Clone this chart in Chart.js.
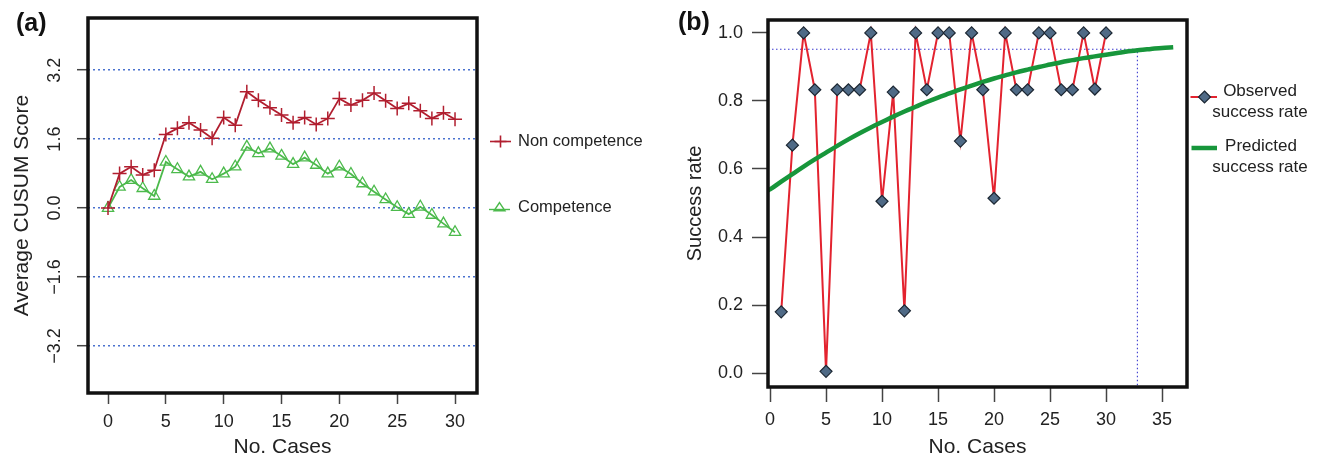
<!DOCTYPE html>
<html>
<head>
<meta charset="utf-8">
<script src="https://cdn.jsdelivr.net/npm/chart.js@4.4.1/dist/chart.umd.min.js"></script>
<style>
  html, body { margin: 0; padding: 0; background: #ffffff; }
  #wrap { position: relative; width: 1320px; height: 458px; overflow: hidden; }
  .panel { position: absolute; top: 0; width: 660px; height: 458px; }
</style>
</head>
<body>
<div id="wrap">
  <div class="panel" style="left:0px"><canvas id="chartA" width="660" height="458"></canvas></div>
  <div class="panel" style="left:660px"><canvas id="chartB" width="660" height="458"></canvas></div>
</div>
<script>
// ---------------- Panel (a) data ----------------
const casesA = [0,1,2,3,4,5,6,7,8,9,10,11,12,13,14,15,16,17,18,19,20,21,22,23,24,25,26,27,28,29,30];
const nonCompetence = [0.00,0.80,0.96,0.77,0.88,1.71,1.85,1.98,1.81,1.62,2.10,1.92,2.70,2.50,2.33,2.16,1.98,2.10,1.94,2.08,2.54,2.39,2.50,2.67,2.49,2.31,2.43,2.26,2.08,2.21,2.06];
const competence    = [0.00,0.49,0.65,0.46,0.28,1.07,0.90,0.73,0.84,0.67,0.80,0.96,1.42,1.27,1.38,1.21,1.02,1.17,1.00,0.80,0.96,0.79,0.57,0.38,0.20,0.02,-0.14,0.03,-0.16,-0.36,-0.56];
const yTicksA = [-3.2,-1.6,0,1.6,3.2];
const xTicksA = [0,5,10,15,20,25,30];
const legendA = ['Non competence','Competence'];

// ---------------- Panel (b) data ----------------
const casesB = [1,2,3,4,5,6,7,8,9,10,11,12,13,14,15,16,17,18,19,20,21,22,23,24,25,26,27,28,29,30];
const observedRate = [0.18,0.67,1.00,0.833,0.005,0.833,0.833,0.833,1.00,0.505,0.826,0.183,1.00,0.833,1.00,1.00,0.682,1.00,0.833,0.514,1.00,0.833,0.833,1.00,1.00,0.833,0.833,1.00,0.835,1.00];
const predictedCases = [-0.18,0,1,2,3,4,5,6,7,8,9,10,11,12,13,14,15,16,17,18,19,20,21,22,23,24,25,26,27,28,29,30,31,32,33,34,35,36];
const predictedRate  = [0.537,0.540,0.563,0.585,0.607,0.628,0.648,0.668,0.687,0.705,0.722,0.738,0.754,0.769,0.783,0.797,0.810,0.822,0.834,0.845,0.856,0.866,0.875,0.884,0.892,0.900,0.907,0.914,0.920,0.926,0.931,0.936,0.941,0.946,0.950,0.953,0.956,0.958];
const targetRate = 0.952;
const targetCases = 32.8;
const yTicksB = [0,0.2,0.4,0.6,0.8,1.0];
const xTicksB = [0,5,10,15,20,25,30,35];
const legendB = [['Observed','success rate'],['Predicted','success rate']];

// ---------------- common ----------------
const FONT = '"Liberation Sans", Arial, Helvetica, sans-serif';
Chart.defaults.font.family = FONT;
Chart.defaults.color = '#222';

const boxPlugin = {
  id: 'boxPlugin',
  afterDraw(chart) {
    const a = chart.chartArea, ctx = chart.ctx;
    ctx.save();
    ctx.lineWidth = 3.5;
    ctx.strokeStyle = '#111';
    ctx.strokeRect(a.left, a.top, a.right - a.left, a.bottom - a.top);
    ctx.restore();
  }
};

function drawCross(ctx, x, y, r, color) {
  ctx.save(); ctx.strokeStyle = color; ctx.lineWidth = 1.6;
  ctx.beginPath(); ctx.moveTo(x - r, y); ctx.lineTo(x + r, y); ctx.moveTo(x, y - r); ctx.lineTo(x, y + r); ctx.stroke();
  ctx.restore();
}
function drawTriangle(ctx, x, y, r, color) {
  ctx.save(); ctx.strokeStyle = color; ctx.lineWidth = 1.4;
  const h = r * 1.5;
  ctx.beginPath(); ctx.moveTo(x, y - h * 0.6); ctx.lineTo(x + r, y + h * 0.4); ctx.lineTo(x - r, y + h * 0.4); ctx.closePath(); ctx.stroke();
  ctx.restore();
}
function drawDiamond(ctx, x, y, r, fill, stroke) {
  ctx.save(); ctx.fillStyle = fill; ctx.strokeStyle = stroke; ctx.lineWidth = 1.2;
  ctx.beginPath(); ctx.moveTo(x, y - r); ctx.lineTo(x + r, y); ctx.lineTo(x, y + r); ctx.lineTo(x - r, y); ctx.closePath(); ctx.fill(); ctx.stroke();
  ctx.restore();
}

const RED_A = '#b11e2f', GREEN_A = '#4cba4c';
const RED_B = '#e3232f', GREEN_B = '#17963b', DIAMOND_FILL = '#4f6a86', DIAMOND_STROKE = '#1c2733', GUIDE = '#3b3bd0';

// ---------------- Chart (a) ----------------
const extrasA = {
  id: 'extrasA',
  afterDraw(chart) {
    const ctx = chart.ctx, ys = chart.scales.y;
    ctx.save();
    ctx.fillStyle = '#222';
    ctx.font = '18px ' + FONT;
    ctx.textAlign = 'center';
    ctx.textBaseline = 'middle';
    yTicksA.forEach(v => {
      const py = ys.getPixelForValue(v);
      const txt = v.toFixed(1).replace('-', '\u2212');
      ctx.save(); ctx.translate(55, py); ctx.rotate(-Math.PI / 2); ctx.fillText(txt, 0, 0); ctx.restore();
    });
    ctx.font = 'bold 25px ' + FONT;
    ctx.textAlign = 'left';
    ctx.fillStyle = '#111';
    ctx.fillText('(a)', 16, 24);
    ctx.font = '16.5px ' + FONT;
    ctx.textBaseline = 'middle';
    ctx.fillStyle = '#222';
    const ly = [141.5, 207.5];
    ctx.strokeStyle = RED_A; ctx.lineWidth = 1.6;
    ctx.beginPath(); ctx.moveTo(490, ly[0]); ctx.lineTo(511, ly[0]); ctx.stroke();
    drawCross(ctx, 500.5, ly[0], 6, RED_A);
    ctx.strokeStyle = GREEN_A; ctx.lineWidth = 1.4;
    ctx.beginPath(); ctx.moveTo(489, ly[1] + 2); ctx.lineTo(510, ly[1] + 2); ctx.stroke();
    drawTriangle(ctx, 499.5, ly[1], 5.5, GREEN_A);
    ctx.fillText(legendA[0], 518, ly[0]);
    ctx.fillText(legendA[1], 518, ly[1]);
    ctx.restore();
  }
};

new Chart(document.getElementById('chartA'), {
  type: 'line',
  data: {
    datasets: [
      {
        label: legendA[1],
        data: casesA.map((x, i) => ({ x: x, y: competence[i] })),
        borderColor: GREEN_A, borderWidth: 1.8,
        pointStyle: 'triangle', pointRadius: 6.5, pointBorderWidth: 1.3,
        pointBackgroundColor: 'rgba(0,0,0,0)', pointBorderColor: GREEN_A,
        tension: 0, order: 2
      },
      {
        label: legendA[0],
        data: casesA.map((x, i) => ({ x: x, y: nonCompetence[i] })),
        borderColor: RED_A, borderWidth: 1.8,
        pointStyle: 'cross', pointRadius: 7, pointBorderWidth: 1.5,
        pointBorderColor: RED_A,
        tension: 0, order: 1
      }
    ]
  },
  options: {
    responsive: false,
    animation: false,
    layout: { padding: { left: 0, top: 18, right: 183, bottom: 0 } },
    plugins: { legend: { display: false }, tooltip: { enabled: false } },
    scales: {
      x: {
        type: 'linear', min: -1.73, max: 31.9,
        afterBuildTicks: s => { s.ticks = xTicksA.map(v => ({ value: v })); },
        afterFit: s => { s.height = 65; },
        grid: { drawOnChartArea: false, tickLength: 11, tickColor: '#444', tickWidth: 1.5 },
        border: { display: false },
        ticks: { font: { size: 18 }, color: '#222', padding: 7, maxRotation: 0 },
        title: { display: true, text: 'No. Cases', font: { size: 21, lineHeight: 1 }, color: '#222', padding: { top: 0, bottom: 0 } }
      },
      y: {
        type: 'linear', min: -4.29, max: 4.41,
        afterBuildTicks: s => { s.ticks = yTicksA.map(v => ({ value: v })); },
        afterFit: s => { s.width = 88; },
        grid: { drawOnChartArea: true, color: '#4a72cf', lineWidth: 1.4, tickLength: 11, tickColor: '#444', tickWidth: 1.5, tickBorderDash: [] },
        border: { display: false, dash: [2, 3] },
        ticks: { display: false },
        title: { display: true, text: 'Average CUSUM Score', font: { size: 21, lineHeight: 1 }, color: '#222', padding: { top: 11.5, bottom: 0 } }
      }
    }
  },
  plugins: [extrasA, boxPlugin]
});

// ---------------- Chart (b) ----------------
const extrasB = {
  id: 'extrasB',
  afterDraw(chart) {
    const ctx = chart.ctx;
    ctx.save();
    ctx.font = 'bold 25px ' + FONT;
    ctx.fillStyle = '#111';
    ctx.textAlign = 'left';
    ctx.textBaseline = 'middle';
    ctx.fillText('(b)', 18, 23);
    ctx.strokeStyle = RED_B; ctx.lineWidth = 2;
    ctx.beginPath(); ctx.moveTo(530.5, 97); ctx.lineTo(557, 97); ctx.stroke();
    drawDiamond(ctx, 544.5, 97, 6, DIAMOND_FILL, DIAMOND_STROKE);
    ctx.strokeStyle = GREEN_B; ctx.lineWidth = 4.5;
    ctx.beginPath(); ctx.moveTo(531.5, 148); ctx.lineTo(557, 148); ctx.stroke();
    ctx.fillStyle = '#222';
    ctx.font = '17px ' + FONT;
    ctx.textAlign = 'center';
    ctx.fillText(legendB[0][0], 600, 91);
    ctx.fillText(legendB[0][1], 600, 112);
    ctx.fillText(legendB[1][0], 601, 146);
    ctx.fillText(legendB[1][1], 600, 167);
    ctx.restore();
  }
};

new Chart(document.getElementById('chartB'), {
  type: 'line',
  data: {
    datasets: [
      {
        label: 'Target',
        data: [{ x: -0.18, y: targetRate }, { x: targetCases, y: targetRate }, { x: targetCases, y: -0.041 }],
        borderColor: GUIDE, borderWidth: 1.1, borderDash: [1.5, 2.5],
        pointRadius: 0, tension: 0, order: 4
      },
      {
        label: 'Observed success rate',
        data: casesB.map((x, i) => ({ x: x, y: observedRate[i] })),
        borderColor: RED_B, borderWidth: 2,
        pointRadius: 0, tension: 0, order: 3
      },
      {
        label: 'Predicted success rate',
        data: predictedCases.map((x, i) => ({ x: x, y: predictedRate[i] })),
        borderColor: GREEN_B, borderWidth: 4.5,
        pointRadius: 0, cubicInterpolationMode: 'monotone', order: 2
      },
      {
        label: 'Observed points',
        data: casesB.map((x, i) => ({ x: x, y: observedRate[i] })),
        showLine: false,
        pointStyle: 'rectRot', pointRadius: 6, pointBorderWidth: 1.2,
        pointBackgroundColor: DIAMOND_FILL, pointBorderColor: DIAMOND_STROKE,
        order: 1
      }
    ]
  },
  options: {
    responsive: false,
    animation: false,
    layout: { padding: { left: 0, top: 20, right: 133, bottom: 0 } },
    plugins: { legend: { display: false }, tooltip: { enabled: false } },
    scales: {
      x: {
        type: 'linear', min: -0.18, max: 37.23,
        afterBuildTicks: s => { s.ticks = xTicksB.map(v => ({ value: v })); },
        afterFit: s => { s.height = 71; },
        grid: { drawOnChartArea: false, tickLength: 15, tickColor: '#444', tickWidth: 1.5 },
        border: { display: false },
        ticks: { font: { size: 18 }, color: '#222', padding: 7, maxRotation: 0 },
        title: { display: true, text: 'No. Cases', font: { size: 21, lineHeight: 1 }, color: '#222', padding: { top: 0, bottom: 0 } }
      },
      y: {
        type: 'linear', min: -0.041, max: 1.038,
        afterBuildTicks: s => { s.ticks = yTicksB.map(v => ({ value: v })); },
        afterFit: s => { s.width = 108; },
        grid: { drawOnChartArea: false, tickLength: 16, tickColor: '#444', tickWidth: 1.5 },
        border: { display: false },
        ticks: { font: { size: 18 }, color: '#222', padding: 9, callback: v => Number(v).toFixed(1) },
        title: { display: true, text: 'Success rate', font: { size: 20, lineHeight: 1 }, color: '#222', padding: { top: 25, bottom: 0 } }
      }
    }
  },
  plugins: [extrasB, boxPlugin]
});
</script>
</body>
</html>
